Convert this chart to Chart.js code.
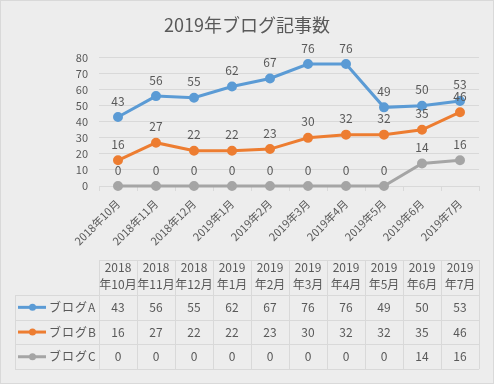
<!DOCTYPE html>
<html>
<head>
<meta charset="utf-8">
<script src="https://cdn.jsdelivr.net/npm/chart.js@4"></script>
<style>
  body { margin: 0; background: #ededed; }
  canvas { display: block; }
</style>
</head>
<body>
<canvas id="myChart" width="494" height="384"></canvas>
<script>
const ctx = document.getElementById('myChart');

// data
const categories = ['2018年10月', '2018年11月', '2018年12月', '2019年1月', '2019年2月',
  '2019年3月', '2019年4月', '2019年5月', '2019年6月', '2019年7月'];
const seriesNames = ['ブログA', 'ブログB', 'ブログC'];
const blogA = [43, 56, 55, 62, 67, 76, 76, 49, 50, 53];
const blogB = [16, 27, 22, 22, 23, 30, 32, 32, 35, 46];
const blogC = [0, 0, 0, 0, 0, 0, 0, 0, 14, 16];
const colors = ['#5b9bd5', '#ed7d31', '#a5a5a5'];

const FONT = "'Noto Sans CJK JP', 'Noto Sans', sans-serif";
const TEXT = '#595959';
const GRID = '#d9d9d9';

// background + outer border
const backgroundPlugin = {
  id: 'bg',
  beforeDraw(chart) {
    const c = chart.ctx;
    c.save();
    c.fillStyle = '#ededed';
    c.fillRect(0, 0, chart.width, chart.height);
    c.strokeStyle = '#d9d9d9';
    c.lineWidth = 1;
    c.strokeRect(0.5, 0.5, chart.width - 1, chart.height - 1);
    c.restore();
  }
};

// value labels above each point
const labelPlugin = {
  id: 'valueLabels',
  afterDatasetsDraw(chart) {
    const c = chart.ctx;
    c.save();
    c.font = '12px ' + FONT;
    c.fillStyle = TEXT;
    c.textAlign = 'center';
    c.textBaseline = 'middle';
    chart.data.datasets.forEach(function (ds, i) {
      const meta = chart.getDatasetMeta(i);
      meta.data.forEach(function (pt, j) {
        c.fillText(ds.data[j], pt.x, pt.y - 16);
      });
    });
    c.restore();
  }
};

// data table under the axis
const tablePlugin = {
  id: 'dataTable',
  afterDraw(chart) {
    const c = chart.ctx;
    const xs = chart.scales.x;
    const area = chart.chartArea;
    const half = (xs.getPixelForValue(1) - xs.getPixelForValue(0)) / 2;
    const top = 260, headBottom = 295, rowH = 24.7;
    const keyLeft = 15;
    const bottom = headBottom + rowH * seriesNames.length;

    c.save();
    c.strokeStyle = GRID;
    c.lineWidth = 1;
    c.beginPath();
    // horizontal lines
    c.moveTo(area.left, top + 0.5);
    c.lineTo(area.right, top + 0.5);
    for (let r = 0; r <= seriesNames.length; r++) {
      const y = Math.round(headBottom + rowH * r) + 0.5;
      c.moveTo(keyLeft, y);
      c.lineTo(area.right, y);
    }
    // vertical lines
    for (let i = 0; i <= categories.length; i++) {
      const x = Math.round(xs.getPixelForValue(0) - half + i * half * 2) + 0.5;
      c.moveTo(x, top);
      c.lineTo(x, bottom);
    }
    c.moveTo(keyLeft + 0.5, headBottom);
    c.lineTo(keyLeft + 0.5, bottom);
    c.stroke();

    c.font = '12px ' + FONT;
    c.fillStyle = TEXT;
    c.textAlign = 'center';
    c.textBaseline = 'middle';
    const rows = [blogA, blogB, blogC];
    categories.forEach(function (cat, i) {
      const x = xs.getPixelForValue(i);
      const parts = cat.split('年');
      c.fillText(parts[0], x, 267.5);
      c.fillText('年' + parts[1], x, 284.5);
      rows.forEach(function (row, r) {
        c.fillText(row[i], x, headBottom + rowH * r + rowH / 2);
      });
    });

    // legend keys
    c.letterSpacing = '1px';
    seriesNames.forEach(function (name, r) {
      const y = headBottom + rowH * r + rowH / 2;
      c.strokeStyle = colors[r];
      c.lineWidth = 3;
      c.beginPath();
      c.moveTo(18, y);
      c.lineTo(46, y);
      c.stroke();
      c.fillStyle = colors[r];
      c.beginPath();
      c.arc(32.5, y, 3.5, 0, Math.PI * 2);
      c.fill();
      c.fillStyle = TEXT;
      c.textAlign = 'left';
      c.fillText(name, 49, y);
    });
    c.restore();
  }
};

function makeSet(label, data, color) {
  return {
    label: label,
    data: data,
    borderColor: color,
    backgroundColor: color,
    borderWidth: 3,
    pointRadius: 3.5,
    pointHoverRadius: 3.5,
    pointBackgroundColor: color,
    pointBorderColor: color,
    tension: 0,
    clip: false
  };
}

new Chart(ctx, {
  type: 'line',
  data: {
    labels: categories,
    datasets: [
      makeSet(seriesNames[0], blogA, colors[0]),
      makeSet(seriesNames[1], blogB, colors[1]),
      makeSet(seriesNames[2], blogC, colors[2])
    ]
  },
  options: {
    responsive: false,
    animation: false,
    devicePixelRatio: 1,
    layout: { padding: { top: 0, left: 15, right: 15, bottom: 128 } },
    plugins: {
      legend: { display: false },
      tooltip: { enabled: false },
      title: {
        display: true,
        text: '2019年ブログ記事数',
        color: TEXT,
        font: { family: FONT, size: 18, weight: 'normal' },
        padding: { top: 14, bottom: 22 }
      }
    },
    scales: {
      x: {
        offset: true,
        afterFit: function (scale) { scale.height = 70; },
        grid: { offset: true, drawOnChartArea: false, drawTicks: true, tickLength: 5, color: GRID },
        border: { color: GRID },
        ticks: {
          color: TEXT,
          font: { family: FONT, size: 11 },
          minRotation: 45,
          maxRotation: 45,
          autoSkip: false,
          padding: 6
        }
      },
      y: {
        min: 0,
        max: 80,
        afterFit: function (scale) { scale.width = 84; },
        grid: { color: GRID, drawTicks: false },
        border: { display: false },
        ticks: {
          stepSize: 10,
          autoSkip: false,
          color: TEXT,
          font: { family: FONT, size: 11 },
          padding: 11
        }
      }
    }
  },
  plugins: [backgroundPlugin, labelPlugin, tablePlugin]
});
</script>
</body>
</html>
